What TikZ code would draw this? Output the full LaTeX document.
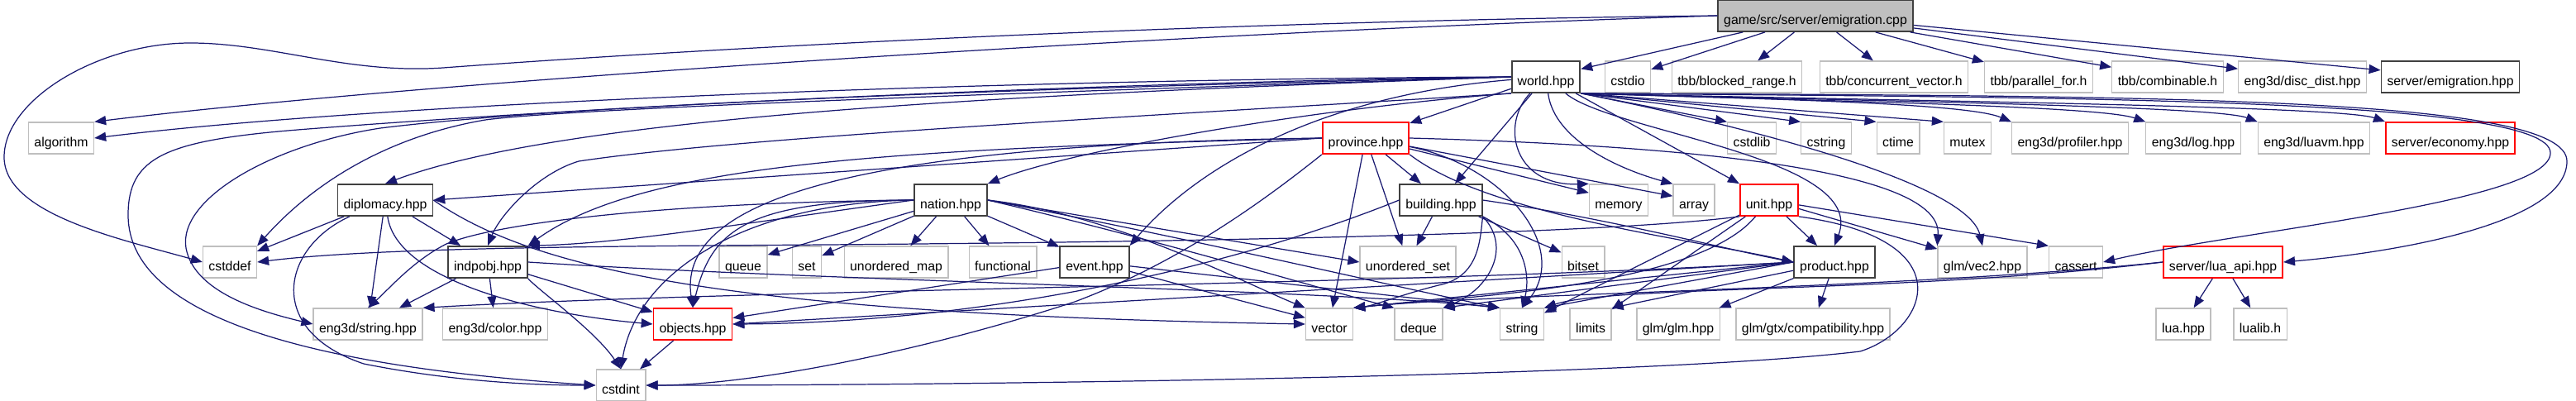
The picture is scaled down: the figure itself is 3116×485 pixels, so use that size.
\documentclass[tikz,border=0pt]{standalone}
\usepackage{fontspec}
\setmainfont{Liberation Sans}
\usetikzlibrary{arrows.meta}
\definecolor{depblue}{HTML}{191970}
\definecolor{sysgray}{HTML}{BFBFBF}

\begin{document}
\begin{tikzpicture}[
  x=0.01cm, y=0.01cm,
  every node/.style={rectangle,draw=sysgray,fill=white,line width=0.35pt,
    minimum height=0.26cm,inner xsep=0.07cm,inner ysep=0pt,
    text height=1.6ex,text depth=0.45ex,font=\fontsize{4.5}{5}\selectfont},
  doc/.style={draw=black!75,line width=0.5pt},
  redbox/.style={draw=red,line width=0.5pt},
  rootbox/.style={draw=black!75,fill=sysgray,line width=0.5pt},
  dep/.style={depblue,line width=0.35pt,-{Triangle[length=1.4mm,width=1.1mm]}}
]
  \useasboundingbox (0,0) rectangle (3116,-485);

  \node[rootbox] (root) at (2196,-19) {game/src/server/emigration.cpp};

  \node[doc] (world) at (1870,-93) {world.hpp};
  \node (cstdio) at (1969,-93) {cstdio};
  \node (blocked) at (2101,-93) {tbb/blocked\_range.h};
  \node (concvec) at (2291,-93) {tbb/concurrent\_vector.h};
  \node (parfor) at (2466,-93) {tbb/parallel\_for.h};
  \node (combin) at (2622,-93) {tbb/combinable.h};
  \node (discdist) at (2785,-93) {eng3d/disc\_dist.hpp};
  \node[doc] (emighpp) at (2964,-93) {server/emigration.hpp};

  \node (algorithm) at (74,-167) {algorithm};
  \node[redbox] (province) at (1652,-167) {province.hpp};
  \node (cstdlib) at (2119,-167) {cstdlib};
  \node (cstring) at (2209,-167) {cstring};
  \node (ctime) at (2296,-167) {ctime};
  \node (mutex) at (2380,-167) {mutex};
  \node (profiler) at (2504,-167) {eng3d/profiler.hpp};
  \node (log) at (2653,-167) {eng3d/log.hpp};
  \node (luavm) at (2799,-167) {eng3d/luavm.hpp};
  \node[redbox] (economy) at (2964,-167) {server/economy.hpp};

  \node[doc] (diplomacy) at (466,-242) {diplomacy.hpp};
  \node[doc] (nation) at (1150,-242) {nation.hpp};
  \node[doc] (building) at (1743,-242) {building.hpp};
  \node (memory) at (1958,-242) {memory};
  \node (array) at (2049,-242) {array};
  \node[redbox] (unit) at (2140,-242) {unit.hpp};

  \node (cstddef) at (278,-317) {cstddef};
  \node[doc] (indpobj) at (590,-317) {indpobj.hpp};
  \node (queue) at (899,-317) {queue};
  \node (set) at (976,-317) {set};
  \node (umap) at (1084,-317) {unordered\_map};
  \node (functional) at (1213,-317) {functional};
  \node[doc] (event) at (1324,-317) {event.hpp};
  \node (uset) at (1703,-317) {unordered\_set};
  \node (bitset) at (1915,-317) {bitset};
  \node[doc] (product) at (2219,-317) {product.hpp};
  \node (vec2) at (2398,-317) {glm/vec2.hpp};
  \node (cassert) at (2511,-317) {cassert};
  \node[redbox] (luaapi) at (2689,-317) {server/lua\_api.hpp};

  \node (estring) at (445,-392) {eng3d/string.hpp};
  \node (ecolor) at (599,-392) {eng3d/color.hpp};
  \node[redbox] (objects) at (838,-392) {objects.hpp};
  \node (vector) at (1608,-392) {vector};
  \node (deque) at (1716,-392) {deque};
  \node (string) at (1841,-392) {string};
  \node (limits) at (1924,-392) {limits};
  \node (glmglm) at (2030,-392) {glm/glm.hpp};
  \node (compat) at (2193,-392) {glm/gtx/compatibility.hpp};
  \node (luahpp) at (2641,-392) {lua.hpp};
  \node (lualib) at (2734,-392) {lualib.h};

  \node (cstdint) at (751,-466) {cstdint};

  \draw[dep] (root) -- (world);
  \draw[dep] (root) -- (cstdio);
  \draw[dep] (root) -- (blocked);
  \draw[dep] (root) -- (concvec);
  \draw[dep] (root) -- (parfor);
  \draw[dep] (root) -- (combin);
  \draw[dep] (root) -- (discdist);
  \draw[dep] (root) -- (emighpp);
  \draw[dep] (root.west) .. controls (1400,-40) and (500,-100) .. (algorithm.north east);
  \draw[dep] (root.west) .. controls (1500,-25) and (900,-55) .. (536,-82)
    .. controls (420,-90) and (330,-52) .. (230,-52)
    .. controls (120,-52) and (5,-120) .. (5,-190)
    .. controls (5,-260) and (150,-290) .. (cstddef.west);

  \draw[dep] (world.west) .. controls (1300,-95) and (500,-120) .. (algorithm.east);
  \draw[dep] (world.west) .. controls (1300,-100) and (700,-130) .. (360,-157)
    .. controls (200,-170) and (155,-190) .. (155,-260)
    .. controls (155,-390) and (400,-445) .. (cstdint.west);
  \draw[dep] (world.west) .. controls (1300,-105) and (700,-125) .. (460,-155)
    .. controls (330,-175) and (215,-240) .. (225,-300)
    .. controls (235,-355) and (320,-378) .. (estring.west);
  \draw[dep] (world.west) .. controls (1300,-110) and (700,-130) .. (587,-145)
    .. controls (470,-165) and (380,-220) .. (cstddef.north east);
  \draw[dep] (world.west) .. controls (1300,-112) and (700,-135) .. (diplomacy.north);
  \draw[dep] (world.south west) .. controls (1400,-140) and (900,-165) .. (700,-195)
    .. controls (650,-210) and (605,-260) .. (indpobj.north);
  \draw[dep] (world.south west) .. controls (1600,-130) and (1300,-180) .. (nation.north east);
  \draw[dep] (world) -- (province);
  \draw[dep] (world) .. controls (1600,-115) and (1450,-200) .. (event.north east);
  \draw[dep] (world) -- (building);
  \draw[dep] (world) .. controls (1815,-150) and (1830,-225) .. (memory.north west);
  \draw[dep] (world) .. controls (1880,-170) and (1960,-205) .. (array.north west);
  \draw[dep] (world) -- (unit);
  \draw[dep] (world) .. controls (1950,-160) and (2260,-190) .. (product.north);
  \draw[dep] (world.south east) .. controls (2100,-150) and (2380,-220) .. (vec2.north);
  \draw[dep] (world.south east) -- (cstdlib.north west);
  \draw[dep] (world.south east) -- (cstring.north west);
  \draw[dep] (world.south east) -- (ctime.north west);
  \draw[dep] (world.south east) -- (mutex.north west);
  \draw[dep] (world.south east) .. controls (2150,-120) and (2380,-125) .. (profiler.north west);
  \draw[dep] (world.south east) .. controls (2200,-122) and (2540,-128) .. (log.north west);
  \draw[dep] (world.south east) .. controls (2250,-122) and (2680,-128) .. (luavm.north west);
  \draw[dep] (world.south east) .. controls (2300,-122) and (2830,-128) .. (economy.north west);
  \draw[dep] (world.south east) .. controls (2500,-118) and (3085,-118) .. (3085,-185)
    .. controls (3085,-245) and (2700,-280) .. (cassert.east);
  \draw[dep] (world.south east) .. controls (2600,-116) and (3105,-116) .. (3105,-195)
    .. controls (3105,-270) and (2900,-305) .. (luaapi.east);

  \draw[dep] (province.west) -- (diplomacy.east);
  \draw[dep] (province.west) .. controls (1100,-180) and (780,-195) .. (indpobj.north east);
  \draw[dep] (province.west) .. controls (1000,-175) and (820,-250) .. (objects.north);
  \draw[dep] (province) -- (building);
  \draw[dep] (province) -- (memory);
  \draw[dep] (province) -- (array);
  \draw[dep] (province.south east) .. controls (1800,-260) and (2050,-290) .. (product.west);
  \draw[dep] (province) -- (uset);
  \draw[dep] (province) -- (vector);
  \draw[dep] (province) .. controls (1820,-200) and (1900,-300) .. (string.north);
  \draw[dep] (province.south west) .. controls (1520,-250) and (1420,-320) .. (1300,-365)
    .. controls (1100,-430) and (900,-466) .. (cstdint.east);
  \draw[dep] (province.east) .. controls (2000,-175) and (2350,-200) .. (vec2.north west);

  \draw[dep] (nation.west) .. controls (800,-245) and (600,-270) .. (540,-295)
    .. controls (500,-315) and (470,-350) .. (estring.north);
  \draw[dep] (nation.west) .. controls (900,-270) and (750,-295) .. (indpobj.north east);
  \draw[dep] (nation.west) .. controls (900,-242) and (860,-280) .. (objects.north);
  \draw[dep] (nation.west) .. controls (900,-245) and (770,-330) .. (cstdint.north);
  \draw[dep] (nation) -- (queue);
  \draw[dep] (nation) -- (set);
  \draw[dep] (nation) -- (umap);
  \draw[dep] (nation) -- (functional);
  \draw[dep] (nation) -- (event);
  \draw[dep] (nation.east) -- (uset.west);
  \draw[dep] (nation.east) .. controls (1350,-260) and (1500,-340) .. (vector.north west);
  \draw[dep] (nation.east) .. controls (1400,-290) and (1600,-350) .. (deque.north west);
  \draw[dep] (nation.east) .. controls (1450,-290) and (1700,-350) .. (string.north west);

  \draw[dep] (diplomacy) -- (cstddef);
  \draw[dep] (diplomacy) -- (estring);
  \draw[dep] (diplomacy) -- (indpobj);
  \draw[dep] (diplomacy) .. controls (340,-300) and (320,-400) .. (440,-440)
    .. controls (550,-462) and (650,-466) .. (cstdint.west);
  \draw[dep] (diplomacy) .. controls (480,-340) and (650,-380) .. (objects.west);
  \draw[dep] (diplomacy.east) .. controls (650,-330) and (900,-380) .. (vector.west);

  \draw[dep] (indpobj) -- (estring);
  \draw[dep] (indpobj) -- (ecolor);
  \draw[dep] (indpobj.south east) .. controls (650,-350) and (720,-400) .. (cstdint.north);
  \draw[dep] (indpobj) -- (objects);
  \draw[dep] (indpobj.east) .. controls (1000,-340) and (1600,-350) .. (string.north west);

  \draw[dep] (event) -- (objects);
  \draw[dep] (event) -- (vector);
  \draw[dep] (event) -- (string.north west);

  \draw[dep] (building) -- (uset);
  \draw[dep] (building) -- (bitset);
  \draw[dep] (building.east) .. controls (1950,-265) and (2080,-300) .. (product.west);
  \draw[dep] (building.south east) .. controls (1790,-290) and (1790,-335) .. (1740,-345)
    .. controls (1700,-355) and (1660,-370) .. (vector.north east);
  \draw[dep] (building.south east) .. controls (1830,-300) and (1800,-350) .. (deque.north east);
  \draw[dep] (building.south east) .. controls (1850,-290) and (1850,-340) .. (string.north);
  \draw[dep] (building.west) .. controls (1500,-320) and (1200,-390) .. (objects.east);

  \draw[dep] (unit.south west) .. controls (1950,-282) and (1500,-292) .. (1000,-296)
    .. controls (700,-298) and (450,-300) .. (cstddef.east);
  \draw[dep] (unit) -- (product);
  \draw[dep] (unit) -- (vec2);
  \draw[dep] (unit) -- (cassert.north west);
  \draw[dep] (unit) .. controls (2050,-350) and (1750,-360) .. (vector.north east);
  \draw[dep] (unit) -- (string);
  \draw[dep] (unit) -- (limits);
  \draw[dep] (unit.south east) .. controls (2380,-290) and (2330,-400) .. (2250,-425)
    .. controls (2000,-455) and (1200,-466) .. (cstdint.east);

  \draw[dep] (product.west) -- (objects.east);
  \draw[dep] (product.west) .. controls (1700,-345) and (900,-350) .. (estring.north east);
  \draw[dep] (product.west) -- (vector.north east);
  \draw[dep] (product.west) -- (deque.north east);
  \draw[dep] (product.west) -- (string.north east);
  \draw[dep] (product) -- (limits.north east);
  \draw[dep] (product) -- (glmglm);
  \draw[dep] (product) -- (compat);

  \draw[dep] (luaapi) -- (luahpp);
  \draw[dep] (luaapi) -- (lualib);
  \draw[dep] (luaapi.west) .. controls (2300,-355) and (1950,-345) .. (string.north east);
  \draw[dep] (luaapi.west) .. controls (2300,-350) and (1800,-355) .. (vector.north east);

  \draw[dep] (objects) -- (cstdint);
\end{tikzpicture}
\end{document}
